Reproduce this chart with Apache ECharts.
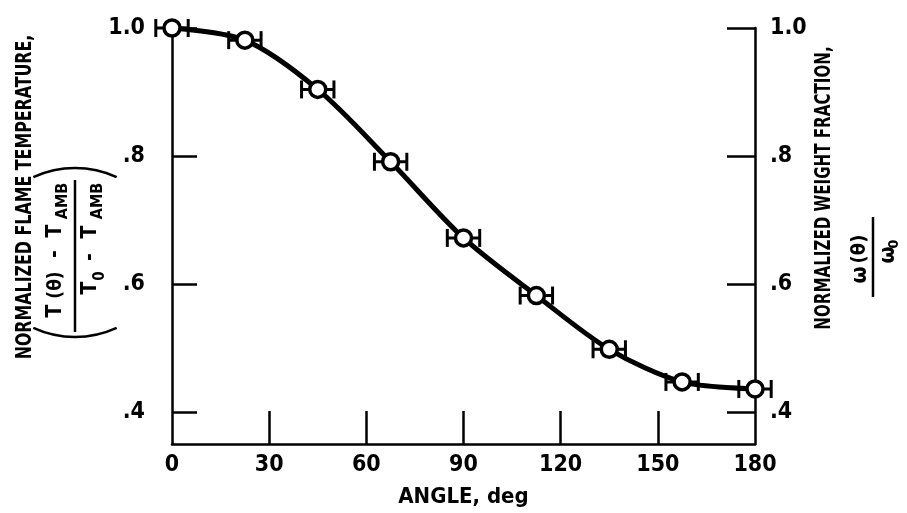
<!DOCTYPE html>
<html>
<head>
    <meta charset="utf-8"/>
    <title>Flame temperature vs angle</title>
    <script src="https://cdn.jsdelivr.net/npm/echarts@6/dist/echarts.min.js"></script>
    <style>
        html, body { margin: 0; padding: 0; background: #fff; }
        #main { width: 907px; height: 513px; }
    </style>
</head>
<body>
<div id="main"></div>
<script type="text/javascript">
    // values
    var angles = [0, 22.5, 45, 67.5, 90, 112.5, 135, 157.5, 180];
    var normTemp = [1.0, 0.981, 0.904, 0.791, 0.672, 0.582, 0.498, 0.447, 0.436];
    var angleErr = [5, 5, 5, 5, 5, 5, 5, 5, 5];
    var xTicks = [30, 60, 90, 120, 150];
    var yLabels = [0.4, 0.6, 0.8, 1.0];
    var yTicks = [0.4, 0.6, 0.8, 1.0];

    var FONT = '"Liberation Sans Narrow", "DejaVu Sans Condensed", sans-serif';

    var lineData = [];
    var errData = [];
    for (var i = 0; i < angles.length; i++) {
        lineData.push([angles[i], normTemp[i]]);
        errData.push([angles[i], normTemp[i], angleErr[i]]);
    }

    function fmtY(v) {
        if (Math.abs(v - 1) < 1e-9) return '1.0';
        return '.' + Math.round(v * 10);
    }

    function renderErr(params, api) {
        var lo = api.coord([api.value(0) - api.value(2), api.value(1)]);
        var hi = api.coord([api.value(0) + api.value(2), api.value(1)]);
        var cap = 9;
        var st = {stroke: '#000', lineWidth: 3};
        return {
            type: 'group',
            children: [
                {type: 'line', shape: {x1: lo[0], y1: lo[1], x2: hi[0], y2: hi[1]}, style: st},
                {type: 'line', shape: {x1: lo[0], y1: lo[1] - cap, x2: lo[0], y2: lo[1] + cap}, style: st},
                {type: 'line', shape: {x1: hi[0], y1: hi[1] - cap, x2: hi[0], y2: hi[1] + cap}, style: st}
            ]
        };
    }

    // small text piece for the rotated formulas (local coords)
    function txt(x, y, s, size) {
        return {
            type: 'text', x: x, y: y,
            style: {
                text: s, fill: '#000', align: 'center', verticalAlign: 'middle',
                font: 'bold ' + size + 'px ' + FONT
            }
        };
    }

    var axisLineStyle = {color: '#000', width: 2.5};
    var labelStyle = {color: '#000', fontSize: 23, fontWeight: 'bold', fontFamily: FONT};

    var myChart = echarts.init(document.getElementById('main'));

    var option = {
        backgroundColor: '#fff',
        animation: false,
        grid: {left: 172, right: 152, top: 28, bottom: 66},
        xAxis: {
            type: 'value', min: 0, max: 180, interval: 30,
            name: 'ANGLE, deg', nameLocation: 'middle', nameGap: 42,
            nameTextStyle: {color: '#000', fontSize: 22, fontWeight: 'bold', fontFamily: FONT},
            axisLine: {show: true, lineStyle: axisLineStyle},
            axisTick: {show: true, inside: true, length: 33, customValues: xTicks, lineStyle: {color: '#000', width: 2.5}},
            axisLabel: Object.assign({margin: 10}, labelStyle),
            splitLine: {show: false}
        },
        yAxis: [{
            type: 'value', min: 0.35, max: 1.0, position: 'left',
            axisLine: {show: true, lineStyle: axisLineStyle},
            axisTick: {show: true, inside: true, length: 25, customValues: yTicks, lineStyle: {color: '#000', width: 2.5}},
            axisLabel: Object.assign({margin: 27, customValues: yLabels, formatter: fmtY}, labelStyle),
            splitLine: {show: false}
        }, {
            type: 'value', min: 0.35, max: 1.0, position: 'right',
            axisLine: {show: true, lineStyle: axisLineStyle},
            axisTick: {show: true, inside: true, length: 28, customValues: yTicks, lineStyle: {color: '#000', width: 2.5}},
            axisLabel: Object.assign({margin: 15, customValues: yLabels, formatter: fmtY}, labelStyle),
            splitLine: {show: false}
        }],
        series: [{
            type: 'custom',
            renderItem: renderErr,
            data: errData,
            encode: {x: 0, y: 1},
            z: 1
        }, {
            type: 'line',
            data: lineData,
            smooth: 0.3,
            lineStyle: {color: '#000', width: 5},
            symbol: 'circle',
            symbolSize: 16,
            itemStyle: {color: '#fff', borderColor: '#000', borderWidth: 3.5},
            z: 3
        }],
        graphic: [
            // left axis title
            {
                type: 'text', x: 25, y: 197, rotation: Math.PI / 2, scaleX: 0.8,
                style: {
                    text: 'NORMALIZED FLAME TEMPERATURE,', fill: '#000', align: 'center', verticalAlign: 'middle',
                    font: 'bold 22px ' + FONT
                }
            },
            // left fraction (T(θ) - T_AMB) / (T_0 - T_AMB)
            {
                type: 'group', x: 75, y: 256, rotation: Math.PI / 2,
                children: [
                    {type: 'line', shape: {x1: -76, y1: 0, x2: 76, y2: 0}, style: {stroke: '#000', lineWidth: 2.5}},
                    txt(-55, -19, 'T', 21),
                    txt(-29, -19, '(θ)', 19),
                    txt(2, -19, '-', 21),
                    txt(25, -19, 'T', 21),
                    txt(55, -12, 'AMB', 16),
                    txt(-32, 16, 'T', 21),
                    txt(-20, 25, '0', 15),
                    txt(-1, 16, '-', 21),
                    txt(24, 16, 'T', 21),
                    txt(55, 23, 'AMB', 16),
                    {type: 'arc', shape: {cx: 19, cy: 0, r: 100, startAngle: Math.PI - 0.43, endAngle: Math.PI + 0.43, clockwise: true},
                        style: {stroke: '#000', lineWidth: 2.5, fill: null}},
                    {type: 'arc', shape: {cx: -12, cy: 0, r: 100, startAngle: -0.43, endAngle: 0.43, clockwise: true},
                        style: {stroke: '#000', lineWidth: 2.5, fill: null}}
                ]
            },
            // right axis title
            {
                type: 'text', x: 825, y: 188, rotation: Math.PI / 2, scaleX: 0.8,
                style: {
                    text: 'NORMALIZED WEIGHT FRACTION,', fill: '#000', align: 'center', verticalAlign: 'middle',
                    font: 'bold 21px ' + FONT
                }
            },
            // right fraction ω(θ)/ω_0
            {
                type: 'group', x: 873, y: 257, rotation: Math.PI / 2,
                children: [
                    {type: 'line', shape: {x1: -40, y1: 0, x2: 40, y2: 0}, style: {stroke: '#000', lineWidth: 2.5}},
                    txt(-18, -13, 'ω', 22),
                    txt(8, -13, '(θ)', 20),
                    txt(2, 15, 'ω', 22),
                    txt(13, 21, '0', 14)
                ]
            }
        ]
    };

    myChart.setOption(option);
</script>
</body>
</html>
